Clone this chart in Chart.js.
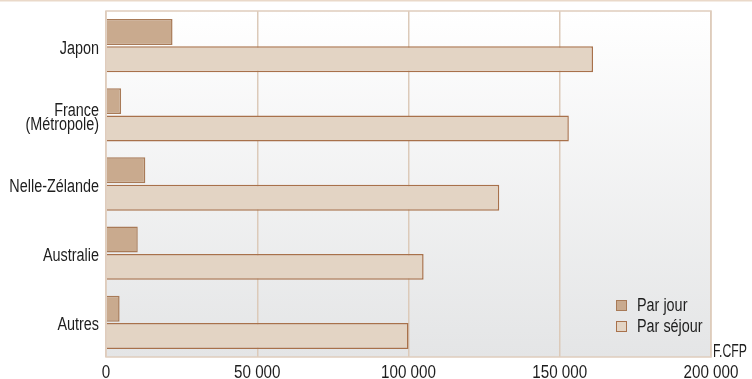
<!DOCTYPE html>
<html><head><meta charset="utf-8">
<script src="https://cdn.jsdelivr.net/npm/chart.js@4.4.1/dist/chart.umd.min.js"></script>
<style>html,body{margin:0;padding:0;background:#fff}#wrap{width:752px;height:379px;position:relative}</style>
</head><body><div id="wrap"><canvas id="c" width="752" height="379"></canvas></div>
<script>
const categories = ['Japon', ['France', '(Métropole)'], 'Nelle-Zélande', 'Australie', 'Autres'];
const parJour = [22000, 5000, 13000, 10500, 4500];
const parSejour = [161000, 153000, 130000, 105000, 100000];
const seriesNames = ['Par jour', 'Par séjour'];
const xTicks = [0, 50000, 100000, 150000, 200000];
const unitLabel = 'F.CFP';

const FONT = "'Liberation Sans', Arial, sans-serif";
const SQUEEZE = 0.8;

// Condensed text: compress all canvas text horizontally around its anchor point
const canvas = document.getElementById('c');
const ctx0 = canvas.getContext('2d');
const origFill = ctx0.fillText.bind(ctx0);
ctx0.fillText = function(t, x, y, mw){
  this.save();
  this.translate(x, y);
  this.scale(SQUEEZE, 1);
  if (mw !== undefined) origFill(t, 0, 0, mw / SQUEEZE); else origFill(t, 0, 0);
  this.restore();
};

function fmt(v){ return v === 0 ? '0' : String(v).replace(/\B(?=(\d{3})+(?!\d))/g, ' '); }

const bgPlugin = {
  id: 'bg',
  beforeDraw(chart){
    const {ctx, chartArea:a} = chart;
    ctx.save();
    ctx.fillStyle = '#ead9c9';
    ctx.fillRect(0, 0, chart.width, 1.5);
    const g = ctx.createLinearGradient(0, a.top, 0, a.bottom);
    g.addColorStop(0, '#ffffff');
    g.addColorStop(1, '#e4e5e6');
    ctx.fillStyle = g;
    ctx.fillRect(a.left, a.top, a.right - a.left, a.bottom - a.top);
    ctx.restore();
  },
  afterDatasetsDraw(chart){
    const {ctx, chartArea:a} = chart;
    ctx.save();
    ctx.strokeStyle = '#dfcdbd';
    ctx.lineWidth = 1.5;
    ctx.strokeRect(a.left, a.top, a.right - a.left, a.bottom - a.top);
    ctx.fillStyle = '#1e1e1e';
    ctx.font = '19px ' + FONT;
    ctx.textAlign = 'left';
    ctx.textBaseline = 'alphabetic';
    ctx.fillText(unitLabel, a.right + 2, a.bottom, 34);
    ctx.font = '18px ' + FONT;
    const ds = chart.data.datasets;
    ds.forEach((d, i) => {
      const x = a.right - 95, y = a.bottom - 57 + i * 21;
      ctx.fillStyle = d.backgroundColor;
      ctx.fillRect(x, y, 11, 11);
      ctx.strokeStyle = d.borderColor;
      ctx.lineWidth = 1;
      ctx.strokeRect(x + 0.5, y + 0.5, 10, 10);
      ctx.fillStyle = '#1e1e1e';
      ctx.textBaseline = 'middle';
      ctx.fillText(d.label, x + 21, y + 6.5);
    });
    ctx.restore();
  }
};

new Chart(canvas, {
  type: 'bar',
  data: {
    labels: categories,
    datasets: [
      { label: seriesNames[0], data: parJour, backgroundColor: '#c9aa8e', borderColor: '#a87a57', borderWidth: 1.5 },
      { label: seriesNames[1], data: parSejour, backgroundColor: '#e3d4c4', borderColor: '#a8714b', borderWidth: 1.5 }
    ]
  },
  options: {
    indexAxis: 'y',
    responsive: false,
    animation: false,
    devicePixelRatio: 1,
    layout: { padding: { top: 11, right: 41, left: 0, bottom: 0 } },
    datasets: { bar: { categoryPercentage: 0.79, barPercentage: 0.95 } },
    plugins: { legend: { display: false }, tooltip: { enabled: false } },
    scales: {
      x: {
        min: 0, max: 200000,
        afterBuildTicks(s){ s.ticks = xTicks.map(v => ({value: v})); },
        afterFit(s){ s.height = 22; s.paddingLeft = 0; s.paddingRight = 0; },
        grid: { color: '#dccab9', lineWidth: 1.5, drawTicks: false },
        border: { display: false },
        ticks: { color: '#1e1e1e', font: { family: FONT, size: 19 }, padding: 4, maxRotation: 0, autoSkip: false, callback: v => fmt(v) }
      },
      y: {
        afterFit(s){ s.width = 106; s.paddingTop = 0; s.paddingBottom = 0; },
        grid: { display: false, drawTicks: false },
        border: { display: false },
        ticks: { color: '#1e1e1e', font: { family: FONT, size: 18, lineHeight: 0.78 }, padding: 7, labelOffset: 3 }
      }
    }
  },
  plugins: [bgPlugin]
});
</script>
</body></html>
